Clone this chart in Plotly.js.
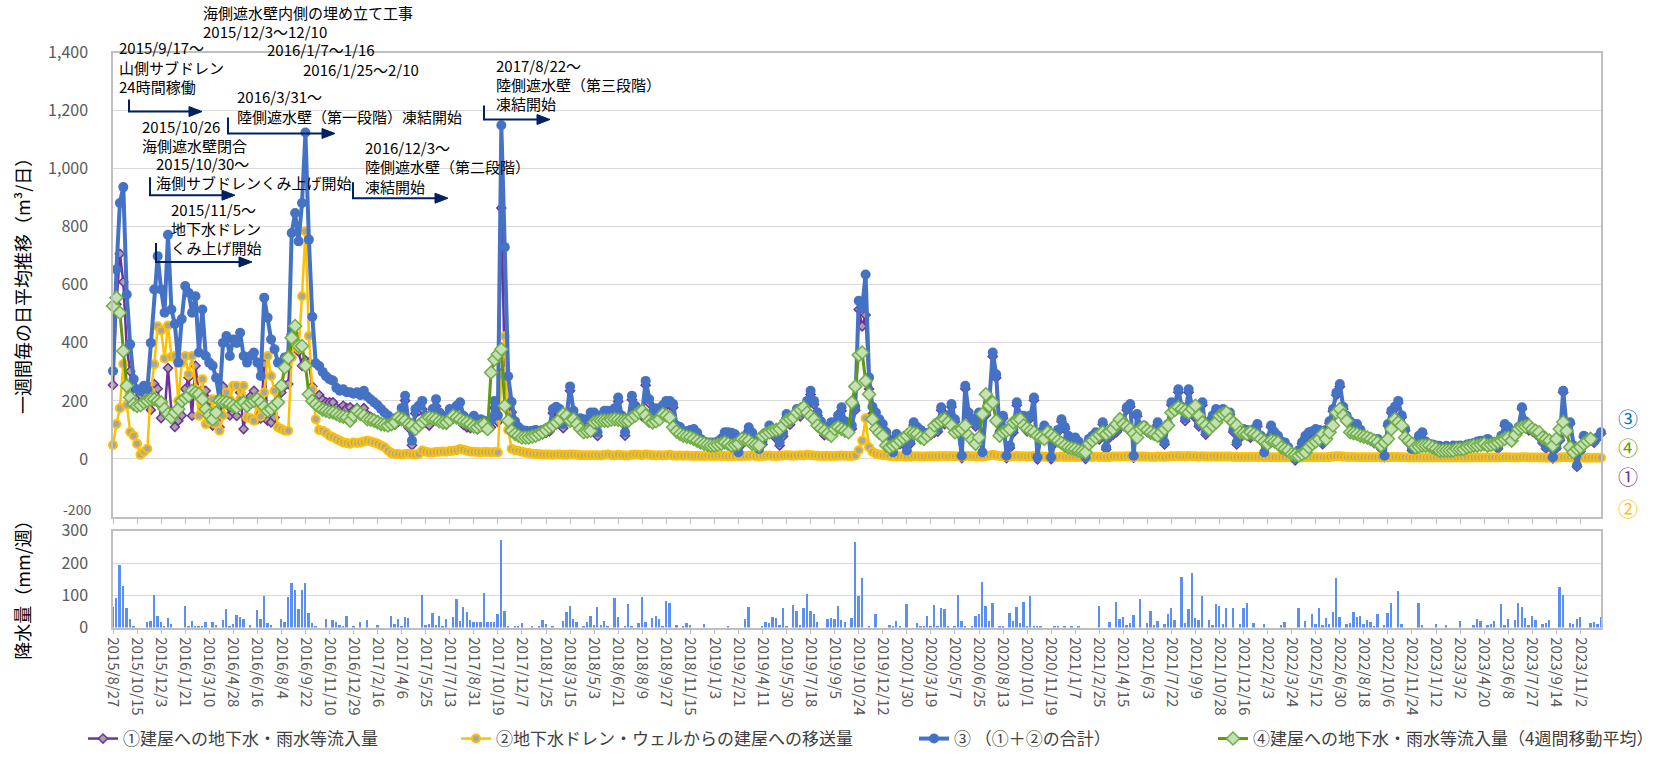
<!DOCTYPE html>
<html><head><meta charset="utf-8">
<script src="https://cdn.plot.ly/plotly-3.0.1.min.js"></script>
<style>html,body{margin:0;padding:0;background:#fff;}#chart{width:1661px;height:757px;}</style>
</head><body><div id="chart"></div>
<script>
// ---- data (weekly, from 2015/8/27) ----
const tickLabels = ["2015/8/27","2015/10/15","2015/12/3","2016/1/21","2016/3/10","2016/4/28","2016/6/16","2016/8/4","2016/9/22","2016/11/10","2016/12/29","2017/2/16","2017/4/6","2017/5/25","2017/7/13","2017/8/31","2017/10/19","2017/12/7","2018/1/25","2018/3/15","2018/5/3","2018/6/21","2018/8/9","2018/9/27","2018/11/15","2019/1/3","2019/2/21","2019/4/11","2019/5/30","2019/7/18","2019/9/5","2019/10/24","2019/12/12","2020/1/30","2020/3/19","2020/5/7","2020/6/25","2020/8/13","2020/10/1","2020/11/19","2021/1/7","2021/2/25","2021/4/15","2021/6/3","2021/7/22","2021/9/9","2021/10/28","2021/12/16","2022/2/3","2022/3/24","2022/5/12","2022/6/30","2022/8/18","2022/10/6","2022/11/24","2023/1/12","2023/3/2","2023/4/20","2023/6/8","2023/7/27","2023/9/14","2023/11/2"];
const mainYTicks = [0, 200, 400, 600, 800, 1000, 1200, 1400];

// ① 建屋への地下水・雨水等流入量
const inflow = [
255,533,707,610,381,302,195,188,220,227,
205,169,258,242,141,158,313,163,110,132,
150,241,281,149,321,218,240,235,202,115,
160,109,250,195,150,160,148,229,103,189,
215,235,137,140,327,132,126,143,223,229,
253,258,429,428,370,321,340,332,250,193,
220,203,195,195,195,176,172,183,175,178,
168,175,163,175,152,145,138,133,126,120,
121,120,118,128,160,201,108,47,157,166,
171,124,115,150,182,135,123,118,145,138,
153,161,117,109,106,124,102,114,108,102,
109,176,128,865,307,185,161,100,82,75,
75,75,79,83,81,85,90,95,158,165,
157,106,136,235,151,123,127,124,122,147,
147,79,138,152,151,147,163,198,137,80,
128,204,168,156,147,254,192,147,163,159,
173,187,186,177,104,98,81,83,89,93,
79,59,50,46,47,47,49,60,82,83,
80,75,12,50,70,98,78,60,24,50,
79,103,90,70,46,78,142,118,139,160,
147,168,186,222,188,149,120,82,99,116,
100,139,166,119,90,104,168,515,457,496,
241,155,142,122,107,80,50,14,77,51,
51,21,52,117,101,92,78,81,83,91,
94,168,120,141,179,128,91,3,242,150,
128,112,151,15,151,188,353,280,82,140,
3,38,91,185,141,140,95,141,202,-2,
84,107,93,-1,53,93,129,103,73,63,
67,53,24,0,62,73,84,67,119,33,
73,84,92,107,122,169,180,4,147,102,
107,92,85,93,118,72,50,112,186,181,
230,171,131,230,171,141,112,186,84,122,
142,164,152,164,152,152,93,50,73,96,
93,73,96,113,73,17,64,109,86,74,
54,51,34,15,-5,25,52,74,86,89,
97,94,51,94,123,164,220,249,172,142,
123,113,114,94,74,69,63,54,63,35,
6,114,159,173,193,144,97,55,29,29,
75,87,55,47,45,41,40,35,40,35,
41,40,41,35,45,47,50,55,58,55,
64,55,52,35,75,114,104,75,85,105,
172,124,98,95,87,75,55,36,46,2,
36,64,229,104,121,41,-27,26,76,56,
65,56,71,88];

// ② 地下水ドレン・ウェルからの建屋への移送量
const transfer = [
48,120,175,327,186,93,80,52,14,25,
35,231,326,457,443,346,460,352,355,200,
332,355,292,355,240,149,275,120,130,206,
120,97,150,229,205,252,252,206,252,143,
140,132,195,146,229,355,286,235,109,103,
97,97,350,420,380,561,785,424,240,137,
100,97,90,80,75,69,63,57,55,52,
57,55,57,60,63,60,57,52,46,40,
29,20,17,17,15,17,18,16,15,17,
29,25,22,22,24,25,26,25,27,28,
30,34,32,28,26,25,24,23,24,24,
23,24,22,285,423,100,35,30,28,25,
22,20,18,17,16,15,15,15,14,15,
15,14,14,15,15,14,13,13,13,13,
13,13,12,14,15,13,12,14,13,12,
12,14,15,14,13,15,14,13,12,13,
12,13,14,12,11,12,11,12,11,10,
11,10,10,11,10,10,11,10,10,9,
10,10,11,10,10,11,12,10,10,10,
11,12,10,10,11,12,13,12,11,12,
13,12,14,13,12,11,10,10,11,10,
10,11,12,11,10,11,12,30,63,140,
40,25,18,15,13,12,10,9,9,9,
9,8,8,9,9,8,8,9,9,9,
9,10,10,9,10,9,9,8,10,10,
9,8,9,8,9,12,14,12,10,9,
8,8,9,10,9,9,8,9,10,8,
8,8,7,7,7,7,8,7,7,7,
7,7,6,6,7,7,8,7,7,7,
7,8,8,8,8,9,9,7,8,8,
8,8,7,7,8,8,7,8,9,9,
10,9,9,10,9,9,8,9,8,8,
8,8,8,8,8,8,7,7,7,7,
7,7,7,7,7,6,6,6,6,6,
6,6,6,5,5,5,5,6,6,6,
6,6,6,6,7,8,9,9,8,7,
7,7,6,6,6,6,6,6,6,5,
5,6,7,7,7,6,6,5,5,5,
5,5,5,5,5,5,5,5,5,5,
5,5,5,5,5,5,5,5,5,5,
5,5,5,5,5,6,6,5,5,5,
6,6,5,5,5,5,5,4,4,4,
4,5,6,6,5,5,4,4,4,4,
4,4,4,4];

// ③ （①＋②の合計）
const total = [
303,653,882,937,567,395,275,240,234,252,
240,400,584,699,584,504,773,515,465,332,
482,596,573,504,561,367,515,355,332,321,
280,206,400,424,355,412,400,435,355,332,
355,367,332,286,556,487,412,378,332,332,
350,355,779,848,750,882,1125,756,490,330,
320,300,285,275,270,245,235,240,230,230,
225,230,220,235,215,205,195,185,172,160,
150,140,135,145,175,218,126,63,172,183,
200,149,137,172,206,160,149,143,172,166,
183,195,149,137,132,149,126,137,132,126,
132,200,150,1150,730,285,196,130,110,100,
97,95,97,100,97,100,105,110,172,180,
172,120,150,250,166,137,140,137,135,160,
160,92,150,166,166,160,175,212,150,92,
140,218,183,170,160,269,206,160,175,172,
185,200,200,189,115,110,92,95,100,103,
90,69,60,57,57,57,60,70,92,92,
90,85,23,60,80,109,90,70,34,60,
90,115,100,80,57,90,155,130,150,172,
160,180,200,235,200,160,130,92,110,126,
110,150,178,130,100,115,180,545,520,636,
281,180,160,137,120,92,60,23,86,60,
60,29,60,126,110,100,86,90,92,100,
103,178,130,150,189,137,100,11,252,160,
137,120,160,23,160,200,367,292,92,149,
11,46,100,195,150,149,103,150,212,6,
92,115,100,6,60,100,137,110,80,70,
74,60,30,6,69,80,92,74,126,40,
80,92,100,115,130,178,189,11,155,110,
115,100,92,100,126,80,57,120,195,190,
240,180,140,240,180,150,120,195,92,130,
150,172,160,172,160,160,100,57,80,103,
100,80,103,120,80,23,70,115,92,80,
60,57,40,20,0,30,57,80,92,95,
103,100,57,100,130,172,229,258,180,149,
130,120,120,100,80,75,69,60,69,40,
11,120,166,180,200,150,103,60,34,34,
80,92,60,52,50,46,45,40,45,40,
46,45,46,40,50,52,55,60,63,60,
69,60,57,40,80,120,110,80,90,110,
178,130,103,100,92,80,60,40,50,6,
40,69,235,110,126,46,-23,30,80,60,
69,60,75,92];

// ④ 建屋への地下水・雨水等流入量（4週間移動平均）
const inflowAvg4 = [
527,556,504,372,252,212,189,183,185,195,
200,206,206,200,195,172,155,143,160,172,
200,210,218,235,228,223,206,172,150,137,
160,200,197,195,190,183,178,190,195,183,
195,200,206,195,180,166,172,185,195,252,
315,349,418,458,389,389,321,223,200,189,
178,170,166,162,160,155,149,146,143,132,
150,166,155,149,137,135,132,126,120,118,
115,120,126,143,137,132,120,115,103,115,
126,137,143,140,137,130,126,126,135,149,
143,137,130,126,120,112,109,115,120,103,
298,343,361,378,183,132,97,86,80,74,
74,74,77,80,86,92,100,109,115,126,
137,155,149,132,137,120,103,92,95,97,
126,129,132,132,132,135,137,135,132,132,
132,143,150,160,166,150,132,126,130,137,
155,150,143,109,95,86,80,77,74,69,
63,57,52,49,46,46,49,52,57,52,
46,49,52,69,66,63,52,49,46,80,
86,92,97,100,103,115,132,138,143,160,
170,178,160,148,137,115,105,97,88,80,
103,109,103,97,92,195,250,358,367,269,
223,137,103,90,80,46,40,46,52,63,
72,80,92,89,86,74,69,80,92,115,
124,132,137,126,115,92,97,103,115,80,
66,52,74,155,223,183,195,132,80,92,
97,103,126,132,137,115,106,97,92,80,
75,69,92,83,74,63,55,46,40,37,
34,29,26,23,52,63,74,83,92,86,
95,103,120,137,120,112,103,88,74,103,
109,100,92,86,80,92,103,115,160,169,
178,172,166,160,172,183,149,126,115,103,
115,126,149,155,160,137,126,115,92,89,
86,92,86,80,69,60,52,63,60,57,
40,34,29,17,14,11,17,23,40,52,
60,69,86,69,92,115,160,172,150,132,
92,89,86,80,77,74,69,63,57,46,
57,69,103,137,126,115,74,63,52,40,
43,46,46,46,40,35,29,29,29,29,
29,34,34,34,40,43,46,46,49,52,
46,49,52,57,63,69,74,63,83,103,
109,112,115,103,97,92,74,69,63,46,
69,103,127,96,40,23,34,40,52,62,
69,null,null,null];

// 降水量（mm/週）
const rainfall = [
65,91,193,130,60,27,3,0,0,0,
18,20,100,35,18,3,30,12,0,0,
0,67,3,20,2,2,2,18,0,18,
8,0,25,57,3,11,40,32,26,0,
8,0,54,26,99,14,8,0,0,27,
17,96,139,116,58,116,139,46,14,2,
0,0,26,0,24,17,8,6,35,0,
2,0,18,0,23,0,0,8,0,0,
0,36,12,28,6,34,29,0,0,0,
102,7,12,44,7,35,5,26,0,32,
89,20,63,47,25,17,18,19,109,17,
17,19,43,271,51,2,0,2,5,14,
0,0,2,0,5,25,12,0,2,0,
0,21,49,68,27,19,0,5,17,37,
8,65,7,22,6,0,91,33,0,2,
74,2,0,13,94,19,0,29,36,27,
6,82,76,0,8,0,2,13,7,0,
0,0,12,0,0,0,0,0,0,3,
0,0,0,0,26,63,0,0,0,2,
17,14,34,29,8,61,2,0,70,53,
7,60,104,52,41,17,0,0,27,29,
26,66,24,19,0,31,266,98,155,0,
2,0,43,0,0,0,7,2,21,2,
0,74,0,0,15,5,5,36,5,70,
3,60,57,3,0,3,101,22,3,0,
5,36,41,142,68,22,78,0,3,2,
0,46,21,63,13,80,2,99,3,5,
2,0,0,0,2,2,0,2,0,6,
0,2,0,0,0,0,0,68,0,0,
18,0,79,26,33,7,13,38,0,88,
0,13,53,7,20,0,10,43,60,24,
0,158,13,57,171,29,23,99,0,25,
8,74,66,12,61,0,61,0,12,60,
77,0,15,0,0,11,0,0,0,0,
7,19,0,0,0,60,0,20,0,43,
10,60,8,30,10,49,153,32,0,12,
14,49,33,35,10,24,16,6,41,0,
8,45,76,0,114,12,0,0,0,0,
76,7,0,0,0,12,0,0,8,0,
0,0,22,0,0,0,7,27,22,0,
8,11,22,0,74,8,26,0,25,78,
64,31,7,37,24,0,10,14,23,0,
0,127,101,0,15,12,26,32,0,0,
13,19,12,32];

const seriesNames = ["①建屋への地下水・雨水等流入量","②地下水ドレン・ウェルからの建屋への移送量","③ （①＋②の合計）","④建屋への地下水・雨水等流入量（4週間移動平均）"];

// ---- build ----
const W = 1661, H = 757;
const px = x => x / W, py = y => 1 - y / H;
const weeks = total.length;
const xIdx = Array.from({length: weeks}, (_, i) => i);
const tickIdx = tickLabels.map((_, k) => k * 7);
const xDom = [px(113), px(1601)];
const FONT = "'Noto Sans CJK JP', 'Noto Sans', sans-serif";

const traces = [
  {x: xIdx, y: inflow, name: seriesNames[0], mode: 'lines+markers', legend: 'legend', cliponaxis: false,
   line: {color: '#7030A0', width: 2.5}, marker: {symbol: 'diamond', size: 7, color: '#A5A5A5', line: {color: '#7030A0', width: 1.5}}},
  {x: xIdx, y: transfer, name: seriesNames[1], mode: 'lines+markers', legend: 'legend2', cliponaxis: false,
   line: {color: '#FFC000', width: 2.5}, marker: {symbol: 'circle', size: 8, color: '#A5A5A5', line: {color: '#FFC000', width: 2}}},
  {x: xIdx, y: total, name: seriesNames[2], mode: 'lines+markers', legend: 'legend3', cliponaxis: false,
   line: {color: '#4472C4', width: 4}, marker: {symbol: 'circle', size: 10, color: '#4472C4'}},
  {x: xIdx, y: inflowAvg4, name: seriesNames[3], mode: 'lines+markers', legend: 'legend4', cliponaxis: false,
   line: {color: '#5E9A0E', width: 3}, marker: {symbol: 'diamond', size: 10, color: '#C5E0B4', line: {color: '#70AD47', width: 1.5}}},
  {x: xIdx, y: rainfall, type: 'bar', xaxis: 'x2', yaxis: 'y2', showlegend: false, width: 0.55,
   marker: {color: '#5B8FF2'}}
];

function ann(text, x, y, opts) {
  return Object.assign({text: text, x: px(x), y: py(y), xref: 'paper', yref: 'paper', showarrow: false,
    xanchor: 'left', yanchor: 'middle', font: {size: 15, color: '#000', family: FONT}}, opts || {});
}
const annotations = [
  ann('海側遮水壁内側の埋め立て工事', 201, 13),
  ann('2015/12/3～12/10', 201, 32),
  ann('2015/9/17～', 117, 48),
  ann('山側サブドレン', 117, 68),
  ann('24時間稼働', 117, 87),
  ann('2016/1/7～1/16', 265, 50),
  ann('2016/1/25～2/10', 301, 70),
  ann('2016/3/31～', 235, 97),
  ann('陸側遮水壁（第一段階）凍結開始', 235, 117),
  ann('2015/10/26', 140, 127),
  ann('海側遮水壁閉合', 140, 146),
  ann('2015/10/30～', 154, 164),
  ann('海側サブドレンくみ上げ開始', 154, 183),
  ann('2015/11/5～', 169, 210),
  ann('地下水ドレン', 169, 229),
  ann('くみ上げ開始', 169, 248),
  ann('2016/12/3～', 363, 148),
  ann('陸側遮水壁（第二段階）', 363, 167),
  ann('凍結開始', 363, 187),
  ann('2017/8/22～', 494, 66),
  ann('陸側遮水壁（第三段階）', 494, 85),
  ann('凍結開始', 494, 104),
  // bottom label of the main value axis, nudged up clear of the rainfall panel
  ann('-200', 93, 511, {xanchor: 'right', font: {size: 14, color: '#595959', family: FONT}}),
  // axis titles
  ann('一週間毎の日平均推移（m³/日）', 22, 283, {xanchor: 'center', textangle: -90, font: {size: 18, color: '#000', family: FONT}}),
  ann('降水量（mm/週）', 22, 588, {xanchor: 'center', textangle: -90, font: {size: 18, color: '#000', family: FONT}}),
  // circled series markers on the right
  ann('③', 1628, 420, {xanchor: 'center', font: {size: 20, color: '#0070C0', family: FONT}}),
  ann('④', 1628, 449, {xanchor: 'center', font: {size: 20, color: '#669900', family: FONT}}),
  ann('①', 1628, 478, {xanchor: 'center', font: {size: 20, color: '#7030A0', family: FONT}}),
  ann('②', 1628, 511, {xanchor: 'center', font: {size: 20, color: '#FFC000', family: FONT}})
];

// step arrows: [x vertical, y top, y corner, x tip]
const arrows = [[129, 100, 112, 202], [150, 178, 196, 235], [156, 244, 263, 252],
                [228, 118, 134, 335], [353, 183, 199, 448], [484, 106, 120, 550]];
const shapes = [];
arrows.forEach(a => {
  const [xv, yt, yc, xt] = a;
  shapes.push({type: 'path', xref: 'paper', yref: 'paper', layer: 'above',
    path: `M${px(xv)},${py(yt)} L${px(xv)},${py(yc)} L${px(xt - 10)},${py(yc)}`,
    line: {color: '#002060', width: 2}});
  shapes.push({type: 'path', xref: 'paper', yref: 'paper', layer: 'above',
    path: `M${px(xt - 13)},${py(yc - 5)} L${px(xt)},${py(yc)} L${px(xt - 13)},${py(yc + 5)} Z`,
    fillcolor: '#002060', line: {color: '#002060', width: 1}});
});

const legendBase = {orientation: 'h', yanchor: 'middle', xanchor: 'left', y: py(742),
  bgcolor: 'rgba(0,0,0,0)', font: {size: 17, color: '#404040', family: FONT}};

const layout = {
  width: W, height: H, margin: {l: 0, r: 0, t: 0, b: 0},
  paper_bgcolor: '#fff', plot_bgcolor: 'rgba(0,0,0,0)',
  font: {family: FONT, color: '#595959'},
  xaxis: {domain: xDom, range: [0, weeks - 1], anchor: 'y', tickmode: 'array', tickvals: tickIdx, ticktext: tickLabels,
    showticklabels: false, ticks: 'outside', ticklen: 5, tickcolor: '#BFBFBF', showline: true, linecolor: '#BFBFBF',
    linewidth: 1.5, mirror: true, showgrid: false, zeroline: false},
  yaxis: {domain: [py(519), py(53)], range: [-200, 1400], tickmode: 'array', tickvals: mainYTicks, tickformat: ',', anchor: 'x',
    showline: true, linecolor: '#BFBFBF', linewidth: 1.5, mirror: true, gridcolor: '#D9D9D9', zeroline: false,
    ticks: '', ticklabelstandoff: 20, tickfont: {size: 16, color: '#595959'}},
  xaxis2: {domain: xDom, range: [0, weeks - 1], anchor: 'y2', tickmode: 'array', tickvals: tickIdx, ticktext: tickLabels,
    tickangle: 90, tickfont: {size: 15, color: '#595959'}, ticks: 'outside', ticklen: 5, tickcolor: '#BFBFBF',
    showline: true, linecolor: '#BFBFBF', linewidth: 1.5, mirror: true, showgrid: false, zeroline: false},
  yaxis2: {domain: [py(630), py(533)], range: [0, 300], dtick: 100, anchor: 'x2',
    showline: true, linecolor: '#BFBFBF', linewidth: 1.5, mirror: true, gridcolor: '#D9D9D9', zeroline: false,
    ticks: '', ticklabelstandoff: 20, tickfont: {size: 16, color: '#595959'}},
  legend: Object.assign({}, legendBase, {x: px(83)}),
  legend2: Object.assign({}, legendBase, {x: px(456)}),
  legend3: Object.assign({}, legendBase, {x: px(914)}),
  legend4: Object.assign({}, legendBase, {x: px(1213)}),
  annotations: annotations,
  shapes: shapes,
  bargap: 0
};

Plotly.newPlot('chart', traces, layout, {displayModeBar: false, responsive: false});
</script>
</body></html>
